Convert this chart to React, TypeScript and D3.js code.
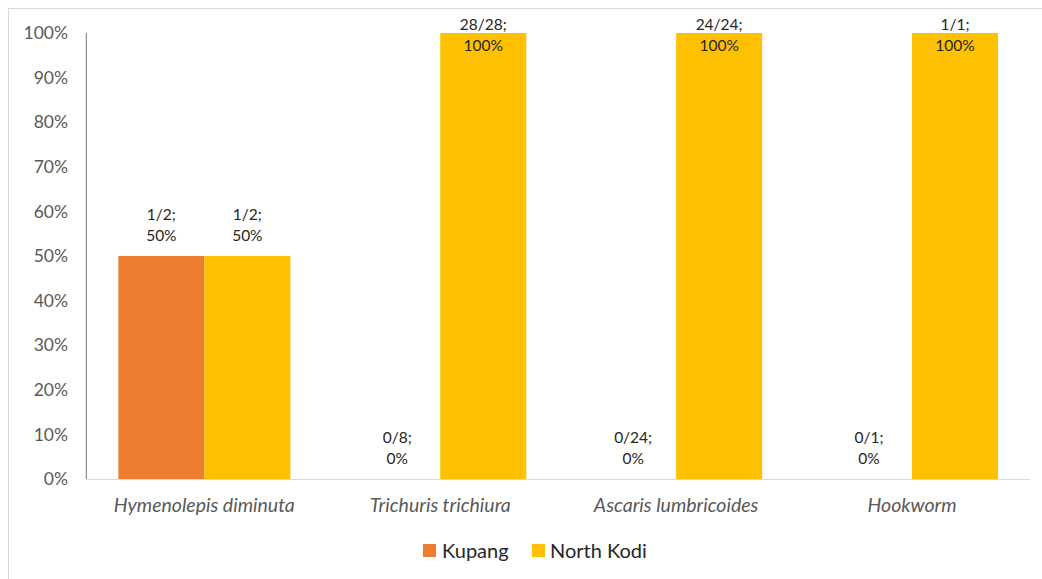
import React from "react";
import * as d3 from "d3";

const categories = ["Hymenolepis diminuta", "Trichuris trichiura", "Ascaris lumbricoides", "Hookworm"];
const seriesNames = ["Kupang", "North Kodi"];
const kupangValues = [0.5, 0, 0, 0];
const northKodiValues = [0.5, 1, 1, 1];
const kupangLabels = ["1/2;", "0/8;", "0/24;", "0/1;"];
const northKodiLabels = ["1/2;", "28/28;", "24/24;", "1/1;"];
const yTicks = [0, 0.1, 0.2, 0.3, 0.4, 0.5, 0.6, 0.7, 0.8, 0.9, 1.0];
const colors = ["#ED7D31", "#FFC000"];

const W = 1042;
const H = 579;
const FONT = "Lato, 'Open Sans', sans-serif";

export default function App() {
  const x0 = d3.scaleBand<string>().domain(categories).range([86.4, 1030]).paddingInner(0).paddingOuter(0);
  const barW = x0.bandwidth() * 0.3646;
  const y = d3.scaleLinear().domain([0, 1]).range([479, 33]);
  const fmt = d3.format(".0%");
  const series = [
    { name: seriesNames[0], values: kupangValues, labels: kupangLabels, color: colors[0] },
    { name: seriesNames[1], values: northKodiValues, labels: northKodiLabels, color: colors[1] },
  ];

  return (
    <svg width={W} height={H} style={{ position: "absolute", left: 0, top: 0 }} fontFamily={FONT}>
      <rect x={0} y={0} width={W} height={H} fill="#fff" />
      <rect x={8.5} y={8.5} width={1200} height={700} fill="none" stroke="#d9d9d9" strokeWidth={1} />
      {yTicks.map((t) => (
        <text key={t} x={68} y={y(t)} dy="0.35em" textAnchor="end" fontSize={17.5} fill="#595959">
          {fmt(t)}
        </text>
      ))}
      {series.map((s, si) =>
        categories.map((c, ci) => {
          const cx = (x0(c) as number) + x0.bandwidth() / 2;
          const bx = cx - barW + si * barW;
          const v = s.values[ci];
          const top = y(v);
          const lineBottom = Math.max(top - 20, 46);
          return (
            <g key={s.name + c}>
              {v > 0 && <rect x={bx} y={top} width={barW} height={479 - top} fill={s.color} />}
              <text x={bx + barW / 2} textAnchor="middle" fontSize={15.5} fill="#262626">
                <tspan x={bx + barW / 2} y={lineBottom - 21} dy="0.35em">{s.labels[ci]}</tspan>
                <tspan x={bx + barW / 2} y={lineBottom} dy="0.35em">{fmt(v)}</tspan>
              </text>
            </g>
          );
        })
      )}
      <line x1={86.4} x2={86.4} y1={33} y2={479} stroke="#8c8c8c" strokeWidth={1.2} />
      <line x1={86.4} x2={1030} y1={479.5} y2={479.5} stroke="#d9d9d9" strokeWidth={1.2} />
      {categories.map((c) => (
        <text key={c} x={(x0(c) as number) + x0.bandwidth() / 2} y={505} dy="0.35em" textAnchor="middle"
          fontSize={19.5} fontStyle="italic" fill="#595959">
          {c}
        </text>
      ))}
      <g>
        <rect x={423} y={544} width={13} height={13} fill={colors[0]} />
        <text x={442} y={550.5} dy="0.35em" fontSize={20} fill="#262626">{seriesNames[0]}</text>
        <rect x={532} y={544} width={13} height={13} fill={colors[1]} />
        <text x={550} y={550.5} dy="0.35em" fontSize={20} fill="#262626">{seriesNames[1]}</text>
      </g>
    </svg>
  );
}
